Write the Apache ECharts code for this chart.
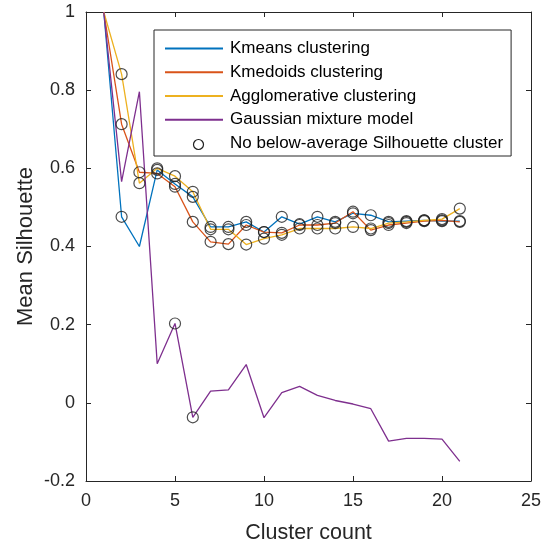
<!DOCTYPE html>
<html>
<head>
<meta charset="utf-8">
<script src="https://cdn.jsdelivr.net/npm/echarts@6/dist/echarts.min.js"></script>
<style>
  html, body { margin: 0; padding: 0; background: #fff; }
  #chart { width: 546px; height: 543px; }
</style>
</head>
<body>
<div id="chart"></div>
<script>
// cluster counts 1..21
const clusterCounts = [1, 2, 3, 4, 5, 6, 7, 8, 9, 10, 11, 12, 13, 14, 15, 16, 17, 18, 19, 20, 21]

const kmeans = [1.0, 0.476, 0.40, 0.596, 0.56, 0.527, 0.45, 0.45, 0.463, 0.437, 0.476, 0.457, 0.476, 0.463, 0.485, 0.48, 0.463, 0.465, 0.467, 0.465, 0.465]
const kmedoids = [1.0, 0.713, 0.59, 0.587, 0.553, 0.463, 0.412, 0.406, 0.455, 0.437, 0.435, 0.455, 0.455, 0.46, 0.489, 0.442, 0.455, 0.46, 0.465, 0.467, 0.463]
const agglomerative = [1.0, 0.841, 0.562, 0.60, 0.58, 0.54, 0.444, 0.444, 0.405, 0.42, 0.43, 0.446, 0.446, 0.446, 0.45, 0.446, 0.46, 0.463, 0.467, 0.47, 0.497]
const gaussian = [1.0, 0.566, 0.796, 0.10, 0.203, -0.037, 0.03, 0.033, 0.098, -0.038, 0.026, 0.042, 0.019, 0.006, -0.003, -0.015, -0.098, -0.091, -0.091, -0.093, -0.15]

// cluster counts with no below-average silhouette cluster, per method
const kmeansMarked = [2, 4, 5, 6, 7, 8, 9, 10, 11, 12, 13, 14, 15, 16, 17, 18, 19, 20, 21]
const kmedoidsMarked = [2, 3, 4, 5, 6, 7, 8, 9, 10, 11, 12, 13, 14, 15, 16, 17, 18, 19, 20, 21]
const agglomerativeMarked = [2, 3, 4, 5, 6, 7, 8, 9, 10, 11, 12, 13, 14, 15, 16, 17, 18, 19, 20, 21]
const gaussianMarked = [5, 6]

const xTicks = [0, 5, 10, 15, 20, 25]
const yTicks = [-0.2, 0, 0.2, 0.4, 0.6, 0.8, 1]

const methods = [
  { name: 'Kmeans clustering', values: kmeans, marked: kmeansMarked, color: '#0072BD' },
  { name: 'Kmedoids clustering', values: kmedoids, marked: kmedoidsMarked, color: '#D95319' },
  { name: 'Agglomerative clustering', values: agglomerative, marked: agglomerativeMarked, color: '#EDB120' },
  { name: 'Gaussian mixture model', values: gaussian, marked: gaussianMarked, color: '#7E2F8E' }
]

const ink = '#262626'
const font = 'Liberation Sans, Arial, sans-serif'

const circles = []
methods.forEach(m => {
  m.marked.forEach(k => {
    circles.push([k, m.values[clusterCounts.indexOf(k)]])
  })
})

const chart = echarts.init(document.getElementById('chart'), null, { renderer: 'canvas' })

const baseAxis = {
  axisLine: { onZero: false, lineStyle: { color: ink, width: 1 } },
  axisTick: { inside: true, length: 5, lineStyle: { color: ink } },
  splitLine: { show: false }
}

chart.setOption({
  animation: false,
  backgroundColor: '#fff',
  textStyle: { fontFamily: font },
  // fixed plot box, no auto shrinking for labels
  grid: { left: 86, right: 15, top: 12, bottom: 62, outerBoundsMode: 'none' },
  xAxis: [
    {
      ...baseAxis,
      type: 'value',
      min: xTicks[0],
      max: xTicks[xTicks.length - 1],
      interval: 5,
      name: 'Cluster count',
      nameLocation: 'middle',
      nameGap: 41,
      nameMoveOverlap: false,
      nameTextStyle: { color: ink, fontSize: 21.5, fontFamily: font },
      axisLabel: { color: ink, fontSize: 18, margin: 11, fontFamily: font }
    },
    {
      ...baseAxis,
      type: 'value',
      position: 'top',
      min: xTicks[0],
      max: xTicks[xTicks.length - 1],
      interval: 5,
      axisLabel: { show: false }
    }
  ],
  yAxis: [
    {
      ...baseAxis,
      type: 'value',
      min: yTicks[0],
      max: yTicks[yTicks.length - 1],
      interval: 0.2,
      name: 'Mean Silhouette',
      nameLocation: 'middle',
      nameGap: 49,
      nameMoveOverlap: false,
      nameTextStyle: { color: ink, fontSize: 22, fontFamily: font },
      axisLabel: {
        color: ink, fontSize: 18, margin: 11, fontFamily: font,
        formatter: v => String(Math.round(v * 10) / 10)
      }
    },
    {
      ...baseAxis,
      type: 'value',
      position: 'right',
      min: yTicks[0],
      max: yTicks[yTicks.length - 1],
      interval: 0.2,
      axisLabel: { show: false }
    }
  ],
  legend: {
    left: 154,
    top: 30,
    orient: 'vertical',
    backgroundColor: '#fff',
    borderColor: ink,
    borderWidth: 1,
    padding: [10, 8, 4, 10],
    itemWidth: 58,
    itemHeight: 14,
    itemGap: 6.75,
    // hide the symbol in line legend icons, keep only the line sample
    itemStyle: { opacity: 0 },
    textStyle: { color: '#000', fontSize: 17, fontFamily: font, padding: [0, 0, 0, 2] },
    data: [
      ...methods.map(m => ({ name: m.name })),
      { name: 'No below-average Silhouette cluster', icon: 'rect' }
    ]
  },
  series: [
    ...methods.map(m => ({
      name: m.name,
      type: 'line',
      data: clusterCounts.map((k, i) => [k, m.values[i]]),
      symbol: 'none',
      lineStyle: { color: m.color, width: 1.3 },
      itemStyle: { color: m.color },
      emphasis: { disabled: true },
      z: 2
    })),
    {
      name: 'No below-average Silhouette cluster',
      type: 'scatter',
      data: circles,
      symbol: 'circle',
      symbolSize: 11,
      itemStyle: { color: 'rgba(0,0,0,0)', borderColor: '#1f1f1f', borderWidth: 1.2 },
      emphasis: { disabled: true },
      z: 3
    }
  ],
  graphic: [
    {
      // legend marker for the circle entry, centred under the legend's line samples
      type: 'circle',
      left: 191,
      top: 137,
      shape: { r: 5 },
      style: { fill: 'none', stroke: '#1f1f1f', lineWidth: 1.2 },
      z: 100
    }
  ]
})
</script>
</body>
</html>
